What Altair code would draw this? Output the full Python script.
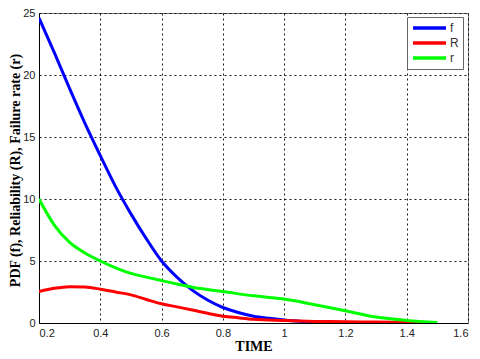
import altair as alt
import pandas as pd

# f: PDF
f_t = [0.2, 0.25, 0.3, 0.35, 0.4, 0.45, 0.5, 0.55, 0.6, 0.65, 0.7, 0.75, 0.8, 0.85, 0.9, 0.95, 1.0, 1.05, 1.1]
f_v = [24.6, 21.8, 18.9, 16.1, 13.5, 11.0, 8.8, 6.8, 5.0, 3.7, 2.65, 1.85, 1.25, 0.85, 0.55, 0.38, 0.25, 0.15, 0.1]
# R: reliability
R_t = [0.2, 0.25, 0.3, 0.35, 0.4, 0.45, 0.5, 0.55, 0.6, 0.65, 0.7, 0.75, 0.8, 0.85, 0.9, 1.0, 1.1, 1.2, 1.3, 1.4, 1.45]
R_v = [2.54, 2.8, 2.93, 2.9, 2.73, 2.5, 2.27, 1.9, 1.55, 1.3, 1.05, 0.78, 0.55, 0.42, 0.3, 0.2, 0.13, 0.1, 0.08, 0.05, 0.03]
# r: failure rate
r_t = [0.2, 0.25, 0.3, 0.35, 0.4, 0.45, 0.5, 0.55, 0.6, 0.65, 0.7, 0.8, 0.9, 1.0, 1.1, 1.2, 1.3, 1.4, 1.5]
r_v = [10.0, 7.9, 6.5, 5.65, 5.0, 4.45, 4.0, 3.7, 3.42, 3.15, 2.88, 2.54, 2.19, 1.93, 1.47, 0.99, 0.48, 0.21, 0.05]

x_ticks = [0.2, 0.4, 0.6, 0.8, 1.0, 1.2, 1.4, 1.6]
y_ticks = [0, 5, 10, 15, 20, 25]

rows = []
for name, ts, vs in (("f", f_t, f_v), ("R", R_t, R_v), ("r", r_t, r_v)):
    for i, (t, v) in enumerate(zip(ts, vs)):
        rows.append({"series": name, "t": t, "v": v, "order": i})
df = pd.DataFrame(rows)

chart = (
    alt.Chart(df)
    .mark_line(strokeWidth=3, interpolate="monotone", clip=True)
    .encode(
        x=alt.X("t:Q", title="TIME",
                scale=alt.Scale(domain=[0.2, 1.6], nice=False, zero=False),
                axis=alt.Axis(values=x_ticks, format="~g")),
        y=alt.Y("v:Q", title="PDF (f), Reliability (R), Failure rate (r)",
                scale=alt.Scale(domain=[0, 25], nice=False),
                axis=alt.Axis(values=y_ticks, titleX=-24, titleY=157, titleAngle=-90,
                              titleBaseline="middle", titleAlign="center")),
        color=alt.Color("series:N",
                        scale=alt.Scale(domain=["f", "R", "r"], range=["#0000ff", "#ff0000", "#00ff00"]),
                        sort=["f", "R", "r"],
                        legend=alt.Legend(title=None, orient="none", legendX=368, legendY=4,
                                          symbolType="stroke", symbolSize=1089, symbolStrokeWidth=3.5,
                                          clipHeight=14,
                                          labelFont="Liberation Sans", labelFontSize=12,
                                          labelColor="#333333", labelOffset=2,
                                          padding=4, rowPadding=1,
                                          strokeColor="#666666", fillColor="white")),
        order="order:Q",
    )
    .properties(width=429, height=310,
                autosize=alt.AutoSizeParams(type="none"),
                padding={"left": 31, "top": 5, "right": 4, "bottom": 36})
    .configure_view(stroke="#777777", strokeWidth=1)
    .configure_axis(
        grid=True, gridColor="#000000", gridDash=[2, 3], gridOpacity=0.9, gridWidth=1,
        domainColor="#000000", ticks=False,
        labelFont="Liberation Sans", labelFontSize=11, labelColor="#222222",
        titleFont="Liberation Serif", titleFontSize=14, titleFontWeight="bold", titleColor="#000000",
    )
    .configure_axisX(labelPadding=4, titlePadding=1)
    .configure_axisY(labelPadding=4)
)

chart.save("out.html", embed_options={"renderer": "svg", "actions": False})
